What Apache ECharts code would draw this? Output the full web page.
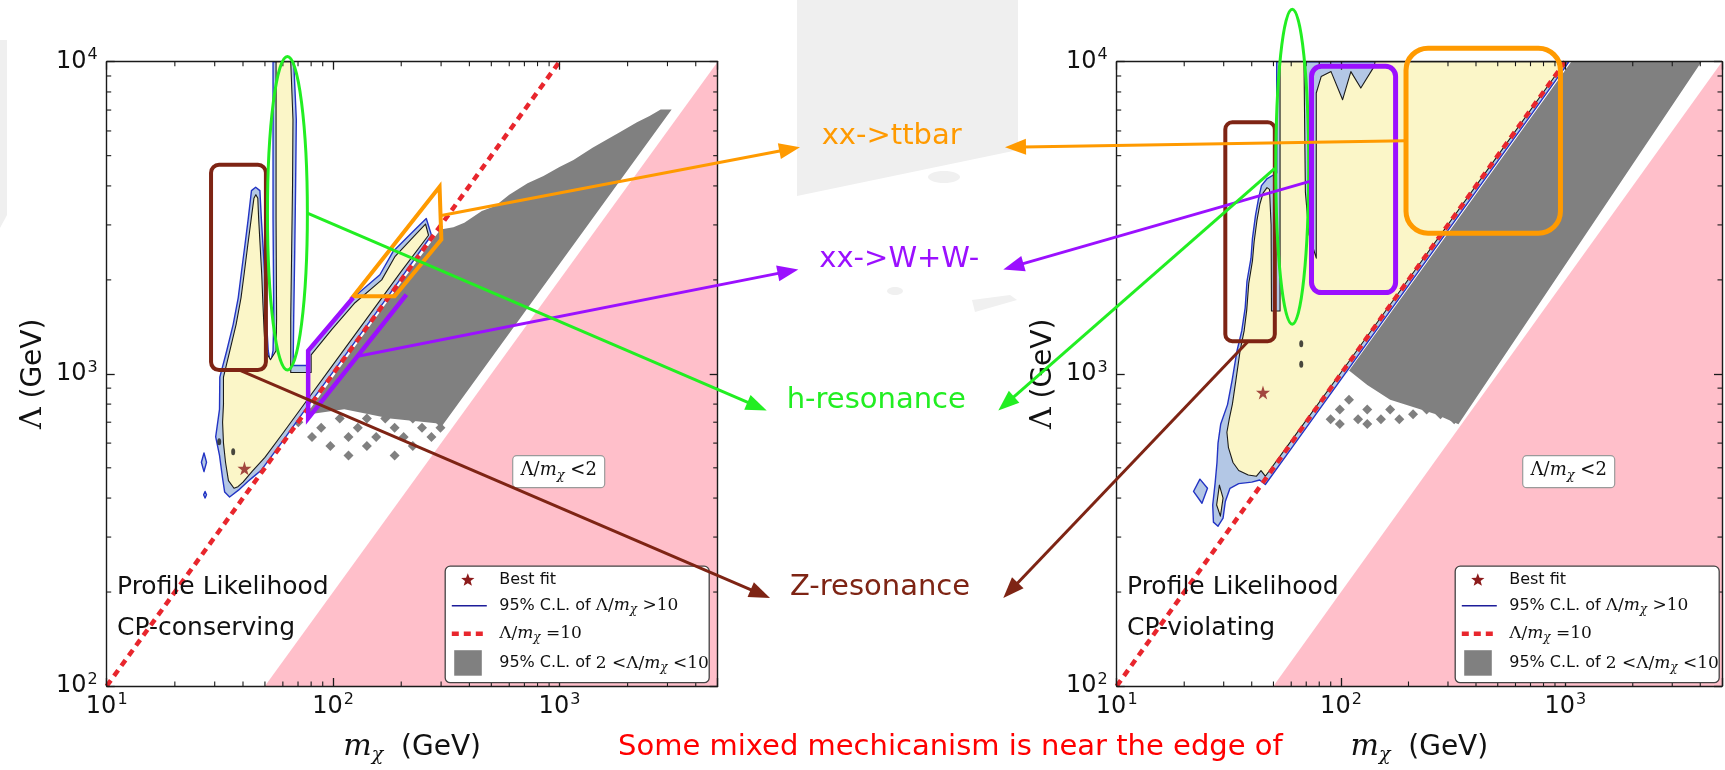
<!DOCTYPE html>
<html>
<head>
<meta charset="utf-8">
<title>Profile likelihood in the (m_chi, Lambda) plane</title>
<script src="https://cdn.jsdelivr.net/npm/echarts@6.0.0/dist/echarts.min.js"></script>
<style>
html,body{margin:0;padding:0;background:#ffffff;}
#chart{width:1725px;height:770px;}
</style>
</head>
<body>
<div id="chart"></div>
<script>
// ---------------- axis ranges and tick values ----------------
const massRange = [10, 5000];        // m_chi (GeV)
const scaleRange = [100, 10000];     // Lambda (GeV)
const minorMassTicks = [20, 30, 40, 50, 60, 70, 80, 90, 200, 300, 400, 500, 600, 700, 800, 900, 2000, 3000, 4000];
const minorScaleTicks = [200, 300, 400, 500, 600, 700, 800, 900, 2000, 3000, 4000, 5000, 6000, 7000, 8000, 9000];

// ---------------- reference regions ----------------
const ratioTenLine = [[10, 100], [1000, 10000]];                 // Lambda/m = 10
const ratioBelowTwo = [[50, 100], [5000, 100], [5000, 10000]];   // Lambda/m < 2

// ---------------- CP-conserving panel ----------------
const cpcBestFit = [[40.6, 498]];
const cpcOuter = [[34.9,403],[33.2,418],[32.5,463],[31.5,548],[30.3,628],[31.5,770],[31.6,976],[33.9,1186],[36.2,1441],[38.1,1752],[39.4,2128],[40.8,2587],[42.2,3144],[43.6,3864],[45.5,3963],[47.5,3864],[48.2,3144],[49.0,2587],[49.9,2077],[50.5,1668],[51.1,1373],[51.7,1186],[52.9,1076],[54.3,1186],[54.7,1514],[54.3,3144],[54.3,10000],[67,10000],[68.8,6530],[68.3,4012],[67.7,2465],[67,1514],[66.6,1063],[77.6,1063],[77.6,1186],[96.7,1441],[122.6,1752],[161,2077],[184,2465],[225,2853],[258,3144],[272,2780],[200,2030],[150,1520],[100,1015],[75,765],[60,610],[48,490],[44,465],[42,452],[38.2,424]];
const cpcInner = [[36.5,430],[34.5,455],[33.5,520],[32.8,600],[32.5,700],[32.8,800],[32.8,976],[35,1186],[37.3,1441],[39.2,1752],[40.6,2128],[42,2587],[43.5,3144],[44.7,3650],[45.6,3750],[46.5,3650],[46.9,3144],[47.6,2587],[48.4,2077],[49,1668],[49.6,1373],[50.2,1186],[52.9,1110],[56,1186],[56.3,1514],[56,3144],[56,10000],[65,10000],[66.5,6530],[66.2,4012],[65.6,2465],[65,1514],[65,1010],[80,1010],[80,1150],[99,1390],[125,1690],[164,2000],[188,2380],[228,2760],[256,3020],[264,2780],[200,2130],[150,1600],[100,1070],[75,805],[60,645],[50,540],[44,488],[40,450],[38,435]];
const cpcOuterIslands = [[[26.9,558],[27.6,521],[26.9,486],[26.2,521]], [[27.2,420],[27.6,410],[27.2,400],[26.8,410]]];
const cpcInnerIslands = [];
const cpcDots = [[31.4,606],[36.2,563]];
const cpcGray = [[76,740],[120,1175],[200,1960],[298,2900],[340,2950],[380,3050],[454,3327],[520,3450],[600,3750],[723,4082],[850,4300],[1000,4600],[1153,4839],[1400,5300],[1600,5600],[1838,5934],[2200,6400],[2500,6700],[2800,7035],[3130,7035],[300,675],[285,695],[178.5,719],[112,770]];
const cpcSpeckle = [[80.7,628],[88.6,672],[97.3,587],[107,720],[117,628],[128.6,672],[141,587],[155,628],[170,720],[187,672],[205,628],[225,587],[247,672],[272,628],[298,672],[70.2,700],[117,548],[187,548],[141,720],[225,720]];

// ---------------- CP-violating panel ----------------
const cpvBestFit = [[44.9, 872]];
const cpvOuter = [[51.7,10000],[51.7,4400],[46.7,4211],[44.2,4009],[42.9,3639],[41.6,3223],[40.3,2717],[39.7,2347],[38.1,1980],[37.4,1628],[36.1,1373],[34.4,1186],[32.7,953],[31.2,797],[29.1,691],[28.3,600],[28,520],[27.5,450],[26.8,380],[27,335],[28.3,325],[29.8,345],[30.5,390],[32,430],[35,445],[40,450],[43.4,457],[46,442],[60,576],[80,768],[100,960],[150,1440],[200,1920],[300,2880],[500,4800],[700,6720],[1040,10000]];
const cpvInner = [[53.5,10000],[68.4,10000],[69.4,3821],[72,2800],[77.6,2347],[77.6,7940],[81.6,8960],[90.3,9295],[101.7,7556],[110.7,9295],[122.6,8232],[140.4,9641],[142,10000],[1000,10000],[500,5000],[200,2010],[100,1010],[60,610],[46,470],[44,490],[42,470],[38.6,474],[35,490],[33,520],[31.5,580],[31,650],[31.8,720],[32.8,800],[34,953],[35.5,1186],[37,1373],[38,1600],[38.8,1950],[40.3,2300],[41,2650],[42.2,3100],[43.5,3500],[45,3800],[46.8,3950],[48,3900],[48.8,3000],[49,1590],[53.5,1590]];
const cpvOuterIslands = [[[23.5,460],[25.4,430],[24,385],[22,420]]];
const cpvInnerIslands = [[[28.7,440],[29.8,400],[29,350],[27.9,380]]];
const cpvDots = [[66.5,1248],[66.5,1074]];
const cpvGray = [[105,990],[300,2820],[600,5640],[1064,10000],[4050,10000],[334,690],[265,742],[165.7,826],[131,921],[108.6,1025]];
const cpvSpeckle = [[89.9,716],[98.8,769],[108.6,826],[119.2,716],[131,769],[150.7,716],[165.7,769],[182,716],[209.6,742],[241,769],[277.6,742],[319.8,716],[98.8,691],[131,691]];

// ---------------- text ----------------
const panelTitles = [['Profile Likelihood', 'CP-conserving'], ['Profile Likelihood', 'CP-violating']];
const legendLabels = [
  '{t|Best fit}',
  '{t|95% C.L. of }{s|Λ/}{i|m}{c|χ}{s| >10}',
  '{s|Λ/}{i|m}{c|χ}{s| =10}',
  '{t|95% C.L. of }{s|2 <Λ/}{i|m}{c|χ}{s| <10}'
];
const mechanismLabels = ['xx->ttbar', 'xx->W+W-', 'h-resonance', 'Z-resonance'];
const footnote = 'Some mixed mechicanism is near the edge of';

// ---------------- annotation anchors (data units of each panel) ----------------
const cpcMarks = {
  zBox: [[28.9, 4675], [50.5, 1028]],
  hEllipse: [[51.3, 10400], [77.0, 1028]],
  ttQuad: [[122.8, 1773], [295.4, 3972], [300.8, 2695], [187, 1773]],
  wwPath: [[122.6, 1752], [77.6, 1186], [77.6, 720], [210.8, 1795]],
  ttFrom: [300.8, 3216], wwFrom: [128.7, 1139], hFrom: [77, 3270], zFrom: [38.6, 1028]
};
const cpvMarks = {
  zBox: [[30.5, 6397], [50.7, 1272]],
  hEllipse: [[51.2, 14720], [71.8, 1443]],
  wwBox: [[73.9, 9670], [175.2, 1821]],
  ttBox: [[195, 11050], [952, 2821]],
  ttFrom: [195, 5580], wwFrom: [74.6, 4159], hFrom: [50.7, 4550], zFrom: [38.6, 1272]
};

// ---------------- styling ----------------
const COL = {
  pink: '#ffbfca', gray: '#808080', lightBlue: '#b3c7e5', blue: '#2334c4', yellow: '#fbf6c8',
  ink: '#1a1a1a', red: '#e8262d', star: '#8c1b1b',
  orange: '#ff9a00', purple: '#9b10ff', green: '#22ee22', brown: '#7e2414', note: '#ff0000'
};
const GRIDS = [
  { left: 106.7, top: 61.7, width: 611, height: 630 },
  { left: 1116.7, top: 61.7, width: 611, height: 630 }
];
const STAR = 'path://M50,0 L61,35 L98,35 L68,57 L79,91 L50,70 L21,91 L32,57 L2,35 L39,35 Z';

const chart = echarts.init(document.getElementById('chart'), null, { renderer: 'canvas', width: 1725, height: 770 });

function powerLabel(v) {
  const e = Math.log10(v);
  if (Math.abs(e - Math.round(e)) > 1e-6) return '';
  return '{b|10}{s|' + Math.round(e) + '}';
}
const tickRich = {
  b: { fontFamily: 'DejaVu Sans', fontSize: 24, color: '#111' },
  s: { fontFamily: 'DejaVu Sans', fontSize: 16, color: '#111', padding: [0, 0, 13, 1] }
};

function makeAxis(gi, position, range, labelled) {
  const isX = position === 'bottom' || position === 'top';
  const axis = {
    type: 'log', logBase: 10, gridIndex: gi, position, min: range[0], max: range[1], z: 10,
    axisLine: { show: true, onZero: false, lineStyle: { color: COL.ink, width: 1.4 } },
    axisTick: { show: true, inside: true, length: 8, lineStyle: { color: COL.ink, width: 1.3 } },
    axisLabel: { show: labelled, margin: isX ? 6 : 9, formatter: powerLabel, rich: tickRich, showMinLabel: true, showMaxLabel: true },
    splitLine: { show: false }
  };
  if (labelled && isX) {
    axis.name = '{i|m}{c|χ}{n|  (GeV)}';
    axis.nameLocation = 'middle';
    axis.nameGap = 44;
    axis.nameTextStyle = { rich: {
      i: { fontFamily: 'DejaVu Serif', fontStyle: 'italic', fontSize: 30, color: '#111' },
      c: { fontFamily: 'DejaVu Serif', fontStyle: 'italic', fontSize: 19, color: '#111', padding: [16, 0, 0, 0] },
      n: { fontFamily: 'DejaVu Sans', fontSize: 28, color: '#111' }
    } };
  }
  if (labelled && !isX) {
    axis.name = '{L|Λ}{n| (GeV)}';
    axis.nameLocation = 'middle';
    axis.nameGap = 58;
    axis.nameTextStyle = { rich: {
      L: { fontFamily: 'DejaVu Serif', fontSize: 30, color: '#111' },
      n: { fontFamily: 'DejaVu Sans', fontSize: 28, color: '#111' }
    } };
  }
  return axis;
}

const xAxes = [], yAxes = [];
GRIDS.forEach((g, gi) => {
  xAxes.push(makeAxis(gi, 'bottom', massRange, true));
  xAxes.push(makeAxis(gi, 'top', massRange, false));
  yAxes.push(makeAxis(gi, 'left', scaleRange, true));
  yAxes.push(makeAxis(gi, 'right', scaleRange, false));
});

// Filled polygons drawn through the panel's own log scales, clipped to the plot area.
function regionSeries(gi, z, layers) {
  return {
    type: 'custom', xAxisIndex: 2 * gi, yAxisIndex: 2 * gi, z, silent: true,
    data: [[100, 1000]],
    renderItem(params, api) {
      const cs = params.coordSys;
      return {
        type: 'group',
        clipPath: { type: 'rect', shape: { x: cs.x, y: cs.y, width: cs.width, height: cs.height } },
        children: layers.map(l => ({
          type: 'polygon',
          shape: { points: l.pts.map(p => api.coord(p)) },
          style: Object.assign({ lineJoin: 'round' }, l.style)
        }))
      };
    }
  };
}

// Matplotlib-style minor ticks on all four spines.
function minorTickSeries(gi) {
  return {
    type: 'custom', xAxisIndex: 2 * gi, yAxisIndex: 2 * gi, z: 11, silent: true,
    data: [[100, 1000]],
    renderItem(params, api) {
      const cs = params.coordSys, L = 4.5, kids = [];
      const style = { stroke: COL.ink, lineWidth: 1.1 };
      minorMassTicks.forEach(m => {
        const x = api.coord([m, scaleRange[0]])[0];
        kids.push({ type: 'line', shape: { x1: x, y1: cs.y + cs.height, x2: x, y2: cs.y + cs.height - L }, style });
        kids.push({ type: 'line', shape: { x1: x, y1: cs.y, x2: x, y2: cs.y + L }, style });
      });
      minorScaleTicks.forEach(v => {
        const y = api.coord([massRange[0], v])[1];
        kids.push({ type: 'line', shape: { x1: cs.x, y1: y, x2: cs.x + L, y2: y }, style });
        kids.push({ type: 'line', shape: { x1: cs.x + cs.width, y1: y, x2: cs.x + cs.width - L, y2: y }, style });
      });
      return { type: 'group', children: kids };
    }
  };
}

const panels = [
  { outer: cpcOuter, outerIslands: cpcOuterIslands, inner: cpcInner, innerIslands: cpcInnerIslands, dots: cpcDots, gray: cpcGray, speckle: cpcSpeckle, best: cpcBestFit },
  { outer: cpvOuter, outerIslands: cpvOuterIslands, inner: cpvInner, innerIslands: cpvInnerIslands, dots: cpvDots, gray: cpvGray, speckle: cpvSpeckle, best: cpvBestFit }
];

const series = [];
panels.forEach((p, gi) => {
  const xi = 2 * gi, yi = 2 * gi;
  series.push(regionSeries(gi, 1, [{ pts: ratioBelowTwo, style: { fill: COL.pink } }]));
  series.push(regionSeries(gi, 2, [{ pts: p.gray, style: { fill: COL.gray } }]));
  series.push({
    type: 'scatter', xAxisIndex: xi, yAxisIndex: yi, z: 2, silent: true,
    symbol: 'diamond', symbolSize: 10, itemStyle: { color: COL.gray, opacity: 1 }, data: p.speckle
  });
  const outerStyle = { fill: COL.lightBlue, stroke: COL.blue, lineWidth: 1.4 };
  const innerStyle = { fill: COL.yellow, stroke: COL.ink, lineWidth: 1.1 };
  series.push(regionSeries(gi, 3,
    [{ pts: p.outer, style: outerStyle }]
      .concat(p.outerIslands.map(pts => ({ pts, style: outerStyle })))
      .concat([{ pts: p.inner, style: innerStyle }])
      .concat(p.innerIslands.map(pts => ({ pts, style: innerStyle })))
  ));
  series.push({
    type: 'scatter', xAxisIndex: xi, yAxisIndex: yi, z: 4, silent: true,
    symbol: 'circle', symbolSize: [4, 7], itemStyle: { color: COL.ink }, data: p.dots
  });
  series.push({
    type: 'line', xAxisIndex: xi, yAxisIndex: yi, z: 5, silent: true, symbol: 'none',
    lineStyle: { color: COL.red, width: 4.5, type: [7, 5.5] }, data: ratioTenLine
  });
  series.push({
    type: 'scatter', xAxisIndex: xi, yAxisIndex: yi, z: 6, silent: true,
    symbol: STAR, symbolSize: 14, itemStyle: { color: COL.star }, data: p.best
  });
  series.push(minorTickSeries(gi));
});

chart.setOption({
  animation: false,
  backgroundColor: '#ffffff',
  grid: GRIDS.map(g => Object.assign({ containLabel: false }, g)),
  xAxis: xAxes,
  yAxis: yAxes,
  series
});

// ---------------- overlay: panel text, legends, annotations ----------------
const px = (gi, p) => chart.convertToPixel({ xAxisIndex: 2 * gi, yAxisIndex: 2 * gi }, p);

function arrow(from, to, color, width) {
  const dx = to[0] - from[0], dy = to[1] - from[1], len = Math.hypot(dx, dy);
  const ux = dx / len, uy = dy / len, hl = 21, hw = 8;
  const bx = to[0] - ux * hl, by = to[1] - uy * hl;
  return [
    { type: 'line', z: 50, shape: { x1: from[0], y1: from[1], x2: bx + ux * 3, y2: by + uy * 3 }, style: { stroke: color, lineWidth: width } },
    { type: 'polygon', z: 50, shape: { points: [to, [bx - uy * hw, by + ux * hw], [bx + uy * hw, by - ux * hw]] }, style: { fill: color } }
  ];
}
function boxFrom(gi, corners, color, width, r) {
  const a = px(gi, corners[0]), b = px(gi, corners[1]);
  return { type: 'rect', z: 50, shape: { x: a[0], y: a[1], width: b[0] - a[0], height: b[1] - a[1], r }, style: { fill: 'none', stroke: color, lineWidth: width } };
}
function ellipseFrom(gi, corners, color, width) {
  const a = px(gi, corners[0]), b = px(gi, corners[1]);
  return { type: 'ellipse', z: 50, shape: { cx: (a[0] + b[0]) / 2, cy: (a[1] + b[1]) / 2, rx: (b[0] - a[0]) / 2, ry: (b[1] - a[1]) / 2 }, style: { fill: 'none', stroke: color, lineWidth: width } };
}
function starPoints(cx, cy, R) {
  const pts = [];
  for (let k = 0; k < 10; k++) {
    const ang = -Math.PI / 2 + k * Math.PI / 5, rr = k % 2 ? R * 0.42 : R;
    pts.push([cx + rr * Math.cos(ang), cy + rr * Math.sin(ang)]);
  }
  return pts;
}
const mathRich = {
  t: { fontFamily: 'DejaVu Sans', fontSize: 16, fill: '#111' },
  s: { fontFamily: 'DejaVu Serif', fontSize: 17, fill: '#111' },
  i: { fontFamily: 'DejaVu Serif', fontStyle: 'italic', fontSize: 17, fill: '#111' },
  c: { fontFamily: 'DejaVu Serif', fontStyle: 'italic', fontSize: 12, fill: '#111', padding: [9, 0, 0, 0] }
};

const G = [];
// faint backdrop left over from the slide
G.push({ type: 'polygon', z: -5, shape: { points: [[797, 0], [1018, 0], [1018, 150], [797, 196]] }, style: { fill: '#efefef' } });
G.push({ type: 'polygon', z: -5, shape: { points: [[0, 40], [7, 40], [7, 215], [0, 228]] }, style: { fill: '#efefef' } });
G.push({ type: 'ellipse', z: -5, shape: { cx: 944, cy: 177, rx: 16, ry: 6 }, style: { fill: '#f0f0f0' } });
G.push({ type: 'ellipse', z: -5, shape: { cx: 895, cy: 291, rx: 8, ry: 4 }, style: { fill: '#f0f0f0' } });
G.push({ type: 'polygon', z: -5, shape: { points: [[972, 300], [1010, 295], [1017, 300], [975, 312]] }, style: { fill: '#f0f0f0' } });

GRIDS.forEach((g, gi) => {
  // panel title
  G.push({ type: 'text', z: 40, x: g.left + 10.3, y: g.top + 525.3, style: { text: panelTitles[gi][0], fontFamily: 'DejaVu Sans', fontSize: 25, fill: '#111', verticalAlign: 'middle', textVerticalAlign: 'middle' } });
  G.push({ type: 'text', z: 40, x: g.left + 10.3, y: g.top + 566.3, style: { text: panelTitles[gi][1], fontFamily: 'DejaVu Sans', fontSize: 25, fill: '#111', verticalAlign: 'middle', textVerticalAlign: 'middle' } });

  // Lambda/m < 2 tag
  const tx = g.left + 406, ty = g.top + 394;
  G.push({ type: 'rect', z: 40, shape: { x: tx, y: ty, width: 92, height: 32, r: 4 }, style: { fill: '#ffffff', stroke: '#9a9a9a', lineWidth: 1.2 } });
  G.push({ type: 'text', z: 41, x: tx + 46, y: ty + 15, style: { text: '{s|Λ/}{i|m}{c|χ}{s| <2}', rich: { s: { fontFamily: 'DejaVu Serif', fontSize: 18, fill: '#111' }, i: { fontFamily: 'DejaVu Serif', fontStyle: 'italic', fontSize: 18, fill: '#111' }, c: { fontFamily: 'DejaVu Serif', fontStyle: 'italic', fontSize: 13, fill: '#111', padding: [10, 0, 0, 0] } }, align: 'center', textAlign: 'center', verticalAlign: 'middle', textVerticalAlign: 'middle' } });

  // legend
  const w = 264, h = 116.5;
  const lx = g.left + g.width - 8.5 - w, ly = g.top + g.height - 9 - h;
  const rows = [14, 39.6, 67.6, 97];
  G.push({ type: 'rect', z: 40, shape: { x: lx, y: ly, width: w, height: h, r: 5 }, style: { fill: '#ffffff', stroke: '#444', lineWidth: 1.3 } });
  G.push({ type: 'polygon', z: 41, shape: { points: starPoints(lx + 22.6, ly + rows[0], 7) }, style: { fill: COL.star } });
  G.push({ type: 'line', z: 41, shape: { x1: lx + 6.6, y1: ly + rows[1], x2: lx + 41.6, y2: ly + rows[1] }, style: { stroke: '#1d1d9a', lineWidth: 1.5 } });
  G.push({ type: 'line', z: 41, shape: { x1: lx + 6.6, y1: ly + rows[2], x2: lx + 41.6, y2: ly + rows[2] }, style: { stroke: COL.red, lineWidth: 4.5, lineDash: [7, 5] } });
  G.push({ type: 'rect', z: 41, shape: { x: lx + 9, y: ly + 84, width: 27.6, height: 25.5 }, style: { fill: COL.gray } });
  legendLabels.forEach((txt, k) => {
    G.push({ type: 'text', z: 41, x: lx + 54, y: ly + rows[k], style: { text: txt, rich: mathRich, verticalAlign: 'middle', textVerticalAlign: 'middle' } });
  });
});

// mechanism labels in the middle
const labelPos = [[821.7, 136.7, COL.orange], [819.3, 259, COL.purple], [786.7, 400, COL.green], [790, 587.5, COL.brown]];
mechanismLabels.forEach((txt, k) => {
  G.push({ type: 'text', z: 45, x: labelPos[k][0], y: labelPos[k][1], style: { text: txt, fontFamily: 'DejaVu Sans', fontSize: 29, fill: labelPos[k][2], verticalAlign: 'middle', textVerticalAlign: 'middle' } });
});
G.push({ type: 'text', z: 45, x: 618, y: 747.5, style: { text: footnote, fontFamily: 'DejaVu Sans', fontSize: 29, fill: COL.note, verticalAlign: 'middle', textVerticalAlign: 'middle' } });

// CP-conserving annotations
G.push(boxFrom(0, cpcMarks.zBox, COL.brown, 4, 8));
G.push(ellipseFrom(0, cpcMarks.hEllipse, COL.green, 3));
G.push({ type: 'polygon', z: 50, shape: { points: cpcMarks.ttQuad.map(p => px(0, p)) }, style: { fill: 'none', stroke: COL.orange, lineWidth: 4, lineJoin: 'miter' } });
G.push({ type: 'polyline', z: 50, shape: { points: cpcMarks.wwPath.map(p => px(0, p)) }, style: { fill: 'none', stroke: COL.purple, lineWidth: 4.5 } });
G.push(...arrow(px(0, cpcMarks.ttFrom), [800, 147.2], COL.orange, 3));
G.push(...arrow(px(0, cpcMarks.wwFrom), [798.3, 269.4], COL.purple, 3));
G.push(...arrow(px(0, cpcMarks.hFrom), [766.7, 410.6], COL.green, 3));
G.push(...arrow(px(0, cpcMarks.zFrom), [770, 598], COL.brown, 3));

// CP-violating annotations
G.push(boxFrom(1, cpvMarks.zBox, COL.brown, 4, 7));
G.push(ellipseFrom(1, cpvMarks.hEllipse, COL.green, 3));
G.push(boxFrom(1, cpvMarks.wwBox, COL.purple, 5, 10));
G.push(boxFrom(1, cpvMarks.ttBox, COL.orange, 5, 22));
G.push(...arrow(px(1, cpvMarks.ttFrom), [1005, 147.2], COL.orange, 3));
G.push(...arrow(px(1, cpvMarks.wwFrom), [1003.3, 269.4], COL.purple, 3));
G.push(...arrow(px(1, cpvMarks.hFrom), [998.3, 410.6], COL.green, 3));
G.push(...arrow(px(1, cpvMarks.zFrom), [1003.3, 598], COL.brown, 3));

chart.setOption({ graphic: { elements: G } });
</script>
</body>
</html>
